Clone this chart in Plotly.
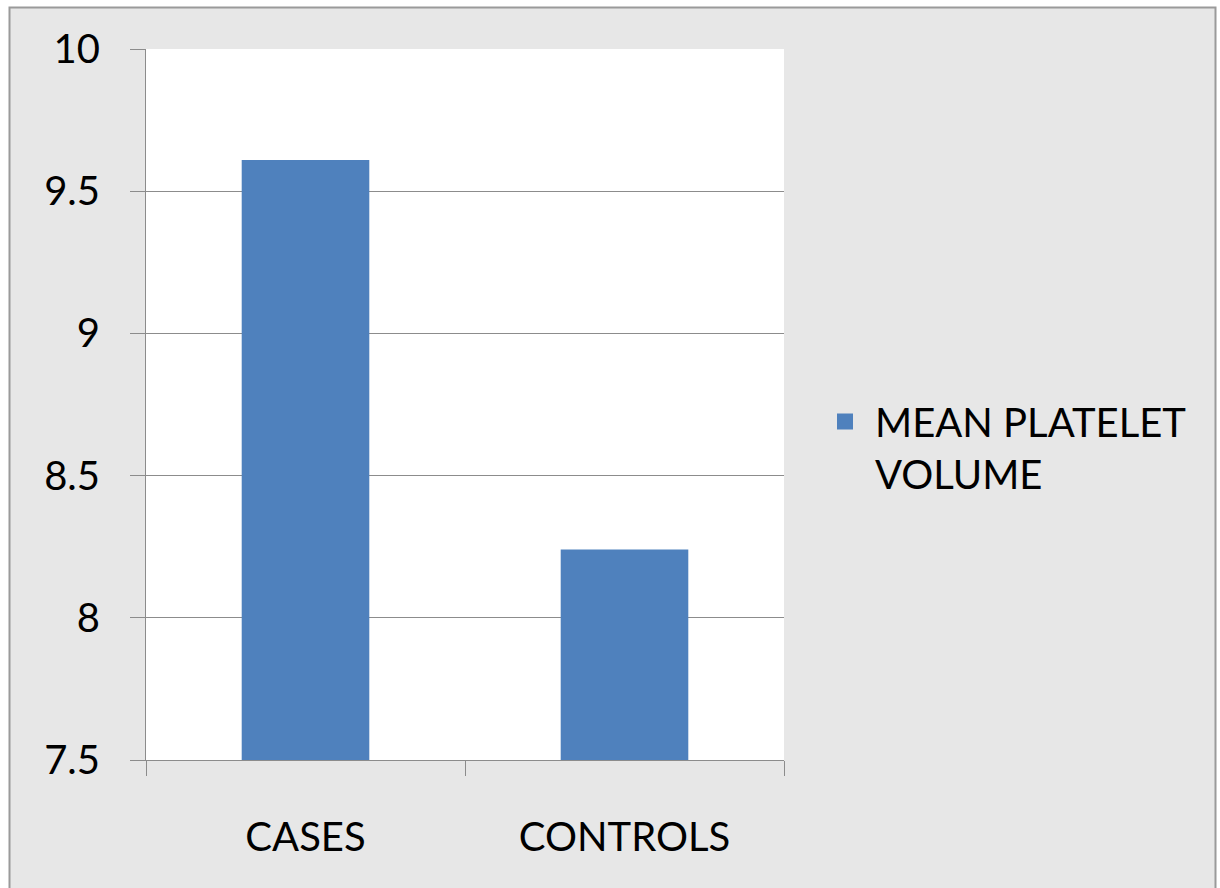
import plotly.graph_objects as go

# Data
groups = ["CASES", "CONTROLS"]
mpv_values = [9.61, 8.24]
series_name = "MEAN PLATELET<br>VOLUME"
y_ticks = [7.5, 8, 8.5, 9, 9.5, 10]
y_tick_labels = ["7.5", "8", "8.5", "9", "9.5", "10"]

BAR_BLUE = "#4f81bd"
GRID = "#8c8c8c"
FONT = "Lato, 'Open Sans', sans-serif"
FS = 40

fig = go.Figure()
fig.add_trace(go.Bar(
    x=groups,
    y=mpv_values,
    name=series_name,
    legendgroup="mpv",
    marker=dict(color=BAR_BLUE, line=dict(width=0)),
    showlegend=False,
))
# legend key for the series, drawn as a larger square swatch
fig.add_trace(go.Scatter(
    x=[None], y=[None], mode="markers",
    name=series_name, legendgroup="mpv",
    marker=dict(symbol="square", size=17, color=BAR_BLUE),
    showlegend=True, hoverinfo="skip",
))

# Plot area in pixels: left 146, right 784, top 49, bottom 760
W, H = 1220, 888
L, R, T, B = 146, 784, 49, 760
pw, ph = R - L, B - T


def px_x(px):
    return (px - L) / pw


def px_y(py):
    return (B - py) / ph


shapes = [
    # grey slide panel with its thin frame
    dict(type="rect", xref="paper", yref="paper", layer="below",
         x0=px_x(9.5), x1=px_x(1215.5), y0=px_y(900), y1=px_y(7.5),
         fillcolor="#e7e7e7", line=dict(color="#9a9a9a", width=2)),
    # white plotting area
    dict(type="rect", xref="paper", yref="paper", layer="below",
         x0=0, x1=1, y0=0, y1=1, fillcolor="white", line=dict(width=0)),
]

fig.update_layout(
    width=W, height=H,
    margin=dict(l=L, r=W - R, t=T, b=H - B, pad=0),
    paper_bgcolor="white",
    plot_bgcolor="white",
    font=dict(family=FONT, color="#000000", size=FS),
    bargap=0.6,
    shapes=shapes,
    showlegend=True,
    legend=dict(
        x=px_x(815), y=px_y(389), xanchor="left", yanchor="top",
        bgcolor="rgba(0,0,0,0)", font=dict(size=FS, family=FONT),
        valign="top", itemclick=False, itemwidth=50,
    ),
)

fig.update_yaxes(
    range=[7.5, 10],
    tickvals=y_ticks, ticktext=y_tick_labels,
    showgrid=True, gridcolor=GRID, gridwidth=1,
    showline=True, linecolor=GRID, linewidth=1,
    ticks="outside", ticklen=15, tickcolor=GRID,
    ticklabelstandoff=22,
    tickfont=dict(size=FS, family=FONT),
    zeroline=False,
)

fig.update_xaxes(
    showline=True, linecolor=GRID, linewidth=1,
    ticks="outside", ticklen=15, tickcolor=GRID,
    tickson="boundaries",
    ticklabelstandoff=42,
    tickfont=dict(size=FS, family=FONT),
    showgrid=False,
)

fig.write_html("out.html")
